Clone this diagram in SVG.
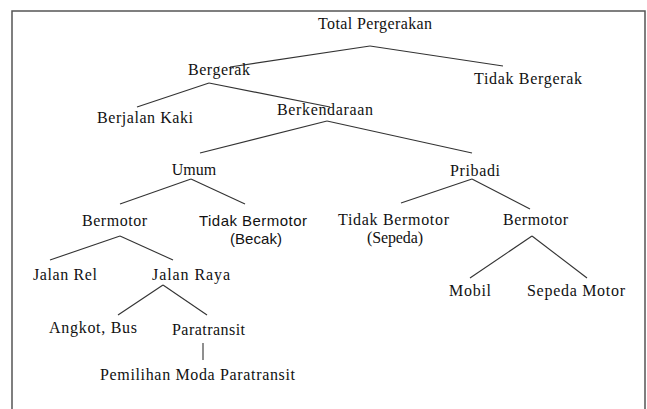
<svg xmlns="http://www.w3.org/2000/svg" width="647" height="409" viewBox="0 0 647 409">
<style>
.s{font-family:"Liberation Serif","Times New Roman",serif;font-size:16px;fill:#111}
.ss{font-family:"Liberation Sans",Arial,sans-serif;font-size:15px;fill:#111}
.c line{stroke:#333;stroke-width:1.1}
</style>
<rect x="0" y="0" width="647" height="409" fill="#fff"/>
<rect x="12" y="11" width="633" height="420" fill="none" stroke="#555" stroke-width="1.5"/>
<g class="c" id="connectors">
<line x1="370" y1="46" x2="230" y2="67"/>
<line x1="370" y1="46" x2="503" y2="66"/>
<line x1="209" y1="83" x2="137" y2="107"/>
<line x1="209" y1="83" x2="330" y2="107"/>
<line x1="327" y1="121" x2="200" y2="153"/>
<line x1="327" y1="121" x2="472" y2="153"/>
<line x1="191" y1="179" x2="120" y2="204"/>
<line x1="191" y1="179" x2="245" y2="204"/>
<line x1="472" y1="179" x2="401" y2="203"/>
<line x1="472" y1="179" x2="530" y2="209"/>
<line x1="120" y1="236" x2="50" y2="260"/>
<line x1="120" y1="236" x2="173" y2="260"/>
<line x1="532" y1="236" x2="470" y2="278"/>
<line x1="532" y1="236" x2="587" y2="278"/>
<line x1="163" y1="285" x2="118" y2="315"/>
<line x1="163" y1="285" x2="207" y2="315"/>
<line x1="203" y1="343" x2="203" y2="360"/>
</g>
<g id="n-total"><text class="s" x="318" y="29" textLength="114">Total Pergerakan</text></g>
<g id="n-bergerak"><text class="s" x="188" y="75" textLength="62">Bergerak</text></g>
<g id="n-tidakbergerak"><text class="s" x="474" y="84" textLength="108">Tidak Bergerak</text></g>
<g id="n-berjalan"><text class="s" x="97" y="123" textLength="96">Berjalan Kaki</text></g>
<g id="n-berkendaraan"><text class="s" x="277" y="115" textLength="96">Berkendaraan</text></g>
<g id="n-umum"><text class="s" x="194" y="175" text-anchor="middle">Umum</text></g>
<g id="n-pribadi"><text class="s" x="450" y="176" textLength="50">Pribadi</text></g>
<g id="n-bermotor1"><text class="s" x="82" y="226" textLength="65">Bermotor</text></g>
<g id="n-tidakbermotor1"><text class="ss" x="199" y="226" textLength="108">Tidak Bermotor</text><text class="ss" x="230" y="244" textLength="52">(Becak)</text></g>
<g id="n-tidakbermotor2"><text class="s" x="338" y="225" textLength="111">Tidak Bermotor</text><text class="s" x="367" y="243" textLength="56">(Sepeda)</text></g>
<g id="n-bermotor2"><text class="s" x="503" y="225" textLength="65">Bermotor</text></g>
<g id="n-jalanrel"><text class="s" x="33" y="280" textLength="64">Jalan Rel</text></g>
<g id="n-jalanraya"><text class="s" x="152" y="280" textLength="78">Jalan Raya</text></g>
<g id="n-mobil"><text class="s" x="449" y="296" textLength="42">Mobil</text></g>
<g id="n-sepedamotor"><text class="s" x="527" y="296" textLength="98">Sepeda Motor</text></g>
<g id="n-angkot"><text class="s" x="49" y="333" textLength="88">Angkot, Bus</text></g>
<g id="n-paratransit"><text class="s" x="172" y="335" textLength="73">Paratransit</text></g>
<g id="n-pemilihan"><text class="s" x="100" y="380" textLength="195">Pemilihan  Moda Paratransit</text></g>
</svg>
